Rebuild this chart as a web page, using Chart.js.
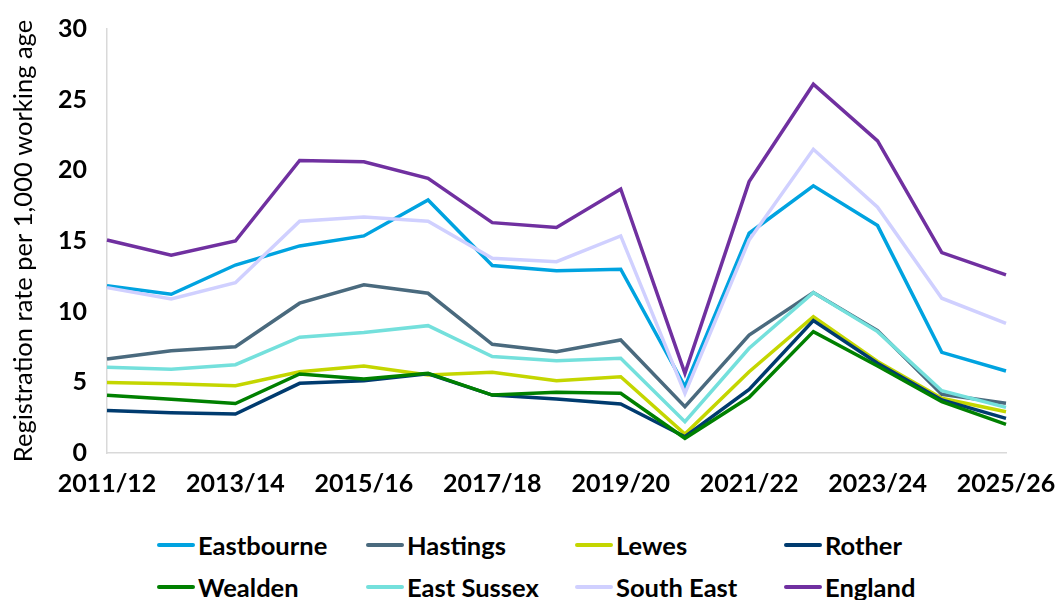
<!DOCTYPE html>
<html>
<head>
<meta charset="utf-8">
<script src="https://cdn.jsdelivr.net/npm/chart.js@4/dist/chart.umd.min.js"></script>
<style>
  body { margin: 0; background: #fff; }
  #wrap { position: relative; width: 1056px; height: 600px; }
  #chart { position: absolute; left: 0; top: 0; }
  #legend { position: absolute; left: 157px; top: 524px; width: 880px;
            display: grid; grid-template-columns: 209px 209px 209px 209px; row-gap: 0; }
  .item { display: flex; align-items: center; height: 42px;
          font: bold 25.5px Lato, sans-serif; color: #000; }
  .swatch { width: 38px; height: 4px; border-radius: 2px; margin-right: 3px; }
</style>
</head>
<body>
<div id="wrap">
  <canvas id="chart" width="1056" height="500"></canvas>
  <div id="legend"></div>
</div>
<script>
const years = ['2011/12', '2012/13', '2013/14', '2014/15', '2015/16', '2016/17', '2017/18', '2018/19',
    '2019/20', '2020/21', '2021/22', '2022/23', '2023/24', '2024/25', '2025/26'];

const eastbourne = [11.84, 11.23, 13.3, 14.65, 15.36, 17.9, 13.26, 12.9, 13.0, 4.7, 15.55, 18.9, 16.09, 7.12, 5.8];
const hastings = [6.65, 7.24, 7.52, 10.6, 11.9, 11.3, 7.69, 7.17, 8.0, 3.28, 8.35, 11.35, 8.66, 4.15, 3.52];
const lewes = [4.98, 4.9, 4.76, 5.75, 6.16, 5.52, 5.71, 5.12, 5.4, 1.34, 5.75, 9.65, 6.47, 3.87, 2.92];
const rother = [3.0, 2.85, 2.76, 4.93, 5.12, 5.6, 4.1, 3.82, 3.47, 1.15, 4.5, 9.37, 6.35, 3.75, 2.45];
const wealden = [4.08, 3.8, 3.5, 5.59, 5.24, 5.64, 4.1, 4.29, 4.22, 1.04, 3.94, 8.59, 6.16, 3.63, 2.03];
const eastSussex = [6.06, 5.92, 6.25, 8.19, 8.52, 9.01, 6.82, 6.53, 6.7, 2.22, 7.41, 11.35, 8.59, 4.41, 3.23];
const southEast = [11.7, 10.9, 12.05, 16.4, 16.7, 16.4, 13.78, 13.54, 15.36, 4.22, 15.07, 21.49, 17.39, 10.95, 9.18];
const england = [15.07, 14.0, 15.0, 20.7, 20.6, 19.44, 16.3, 15.95, 18.68, 5.64, 19.2, 26.09, 22.08, 14.18, 12.6];

const seriesNames = ['Eastbourne', 'Hastings', 'Lewes', 'Rother', 'Wealden', 'East Sussex', 'South East', 'England'];
const seriesValues = [eastbourne, hastings, lewes, rother, wealden, eastSussex, southEast, england];
const seriesColours = ['#00A3E0', '#4A6A7E', '#C4D600', '#003B6F', '#008000', '#74E0DC', '#D0D0FF', '#7030A0'];

const axisColour = '#D9D9D9';

// later series sit on top, like the original
const datasets = seriesNames.map((name, i) => ({
    label: name,
    data: seriesValues[i],
    borderColor: seriesColours[i],
    backgroundColor: seriesColours[i],
    borderWidth: 3.5,
    pointRadius: 0,
    tension: 0,
    order: seriesNames.length - i,
}));

const ctx = document.getElementById('chart').getContext('2d');
const chart = new Chart(ctx, {
    type: 'line',
    data: { labels: years, datasets: datasets },
    options: {
        responsive: false,
        animation: false,
        layout: { padding: { top: 29, right: 50, left: 0, bottom: 0 } },
        plugins: { legend: { display: false }, tooltip: { enabled: false } },
        scales: {
            x: {
                offset: false,
                grid: { display: false, drawTicks: false },
                border: { display: true, color: axisColour, width: 1.5 },
                ticks: {
                    autoSkip: false,
                    maxRotation: 0,
                    padding: 16,
                    color: '#000',
                    font: { family: 'Lato', size: 25, weight: 'bold' },
                    callback: (val, idx) => (idx % 2 === 0 ? years[idx] : ''),
                },
                afterFit: (s) => { s.height = 47; s.paddingLeft = 0; s.paddingRight = 0; },
            },
            y: {
                min: 0,
                max: 30,
                grid: { display: false, drawTicks: false },
                border: { display: true, color: axisColour, width: 1.5 },
                ticks: {
                    stepSize: 5,
                    padding: 20,
                    color: '#000',
                    font: { family: 'Lato', size: 25, weight: 'bold' },
                },
                title: {
                    display: true,
                    text: 'Registration rate per 1,000 working age',
                    color: '#000',
                    font: { family: 'Lato', size: 25.5 },
                    padding: { top: 8, bottom: 0 },
                },
                afterFit: (s) => { s.width = 107; s.paddingTop = 0; s.paddingBottom = 0; },
            },
        },
    },
});

// legend in four fixed columns
const legend = document.getElementById('legend');
chart.data.datasets.forEach((ds) => {
    const item = document.createElement('div');
    item.className = 'item';
    const swatch = document.createElement('span');
    swatch.className = 'swatch';
    swatch.style.background = ds.borderColor;
    item.appendChild(swatch);
    item.appendChild(document.createTextNode(ds.label));
    legend.appendChild(item);
});
</script>
</body>
</html>
